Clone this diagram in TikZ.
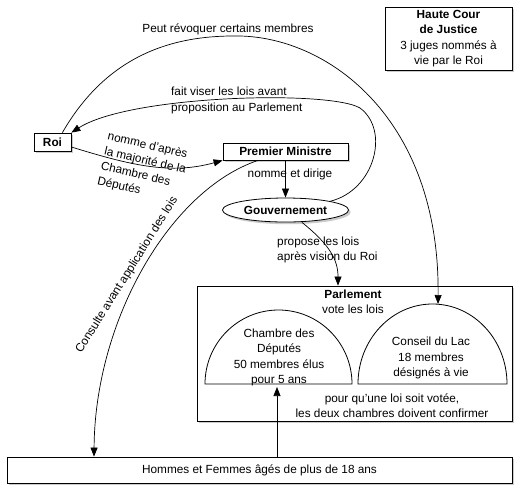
\documentclass[tikz,border=0pt]{standalone}
\usepackage{fontspec}
\setmainfont{Liberation Sans}
\usetikzlibrary{arrows.meta,shapes.geometric,shadows}
\tikzset{
  txt/.style={font=\fontsize{11.8}{15.3}\selectfont, align=center, inner sep=0pt},
  box/.style={draw, fill=white, line width=0.8pt, inner sep=0pt, txt,
    drop shadow={shadow xshift=2.2pt, shadow yshift=-2.2pt, fill=black!40}},
  arr/.style={-{Triangle[length=9pt,width=7pt]}, line width=0.7pt},
  dome/.style={draw, line width=0.8pt},
}
\begin{document}
\begin{tikzpicture}[x=1pt,y=-1pt]
\useasboundingbox (0,0) rectangle (518,491);
\fill[white] (0,0) rectangle (518,491);

% boxes
\node[box, minimum width=127pt, minimum height=63pt] (haute) at (448.5,38.5)
  {\textbf{Haute Cour}\\\textbf{de Justice}\\3 juges nommés à\\vie par le Roi};
\node[box, minimum width=37pt, minimum height=18pt] (roi) at (52.5,142) {\textbf{Roi}};
\node[box, minimum width=125pt, minimum height=17pt] (pm) at (285.5,151.5) {\textbf{Premier Ministre}};
\node[box, ellipse, minimum width=126pt, minimum height=24pt] (gouv) at (285.5,210) {\textbf{Gouvernement}};
\node[box, minimum width=315pt, minimum height=135pt] (parl) at (354.5,353.5) {};
\node[box, minimum width=505pt, minimum height=26pt] (hommes) at (259.5,470)
  {Hommes et Femmes âgés de plus de 18 ans};

% domes
\draw[dome] (205,384) arc[start angle=180, end angle=0, x radius=73.5pt, y radius=74pt] -- cycle;
\draw[dome] (358,384) arc[start angle=180, end angle=0, x radius=74.5pt, y radius=80pt] -- cycle;
\coordinate (chambrebase) at (277,387);
\coordinate (conseiltop) at (438,304);

% texts
\node[txt] (parltitle) at (353,302) {\textbf{Parlement}\\vote les lois};
\node[txt] (chambre) at (279,357.5) {Chambre des\\Députés\\50 membres élus\\pour 5 ans};
\node[txt] (conseil) at (431,358) {Conseil du Lac\\18 membres\\désignés à vie};
\node[txt] (regle) at (392,405.5) {pour qu'une loi soit votée,\\les deux chambres doivent confirmer};

\node[txt] (t1) at (228,29) {Peut révoquer certains membres};
\node[txt, align=left, anchor=west] (t2) at (171,100.5) {fait viser les lois avant\\proposition au Parlement};
\node[txt, align=left, anchor=north west, rotate=-13] (t3) at (109,131)
  {nomme d'après\\la majorité de la\\Chambre des\\Députés};
\node[txt] (t4) at (290,174) {nomme et dirige};
\node[txt, align=left, anchor=west] (t5) at (277,250) {propose les lois\\après vision du Roi};
\node[txt, rotate=58] (t6) at (127,275) {Consulte avant application des lois};

% connectors
\draw[arr] ([xshift=-9pt]roi.north east) .. controls (110,50) and (180,35) .. (240,36)
  .. controls (330,38) and (440,120) .. (conseiltop);
\draw[arr] (gouv.north east) .. controls (375,190) and (390,130) .. (360,108)
  .. controls (330,90) and (130,95) .. (roi.north east);
\draw[arr] ([yshift=-5pt]roi.east) .. controls (130,165) and (170,175) .. (pm.south west);
\draw[arr] (pm.south) -- (gouv.north);
\draw[arr] ([xshift=-27.5pt]pm.south) .. controls (170,190) and (95,320) .. ([xshift=-165.5pt]hommes.north);
\draw[arr] ([xshift=16.5pt]gouv.south) .. controls (330,245) and (338,260) .. ([xshift=-16.5pt]parl.north);
\draw[arr] ([xshift=17.5pt]hommes.north) -- (chambrebase);
\end{tikzpicture}
\end{document}
